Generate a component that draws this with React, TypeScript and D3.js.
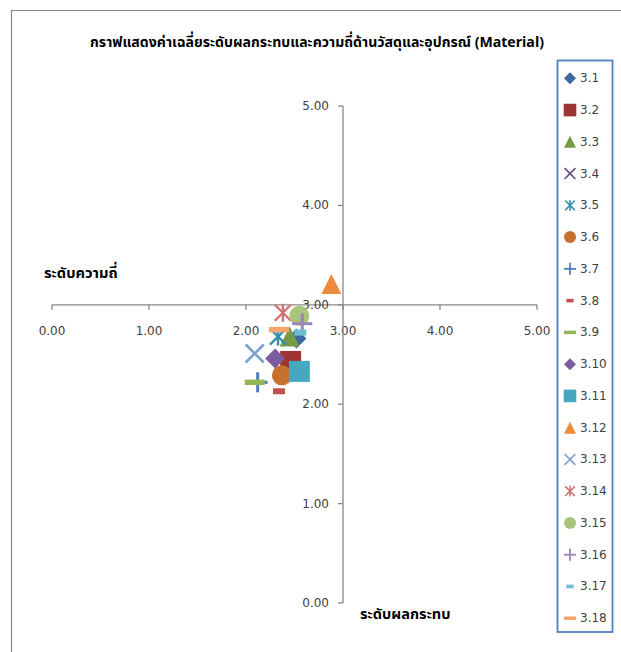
import React from 'react';
import * as d3 from 'd3';

// Items 3.1 – 3.18: mean impact level (x) and mean frequency level (y)
const categories = ['3.1', '3.2', '3.3', '3.4', '3.5', '3.6', '3.7', '3.8', '3.9', '3.10', '3.11', '3.12', '3.13', '3.14', '3.15', '3.16', '3.17', '3.18'];
const impact = [2.52, 2.46, 2.45, 2.55, 2.33, 2.37, 2.12, 2.34, 2.09, 2.30, 2.55, 2.88, 2.09, 2.38, 2.55, 2.58, 2.56, 2.34];
const frequency = [2.66, 2.43, 2.68, 2.34, 2.68, 2.29, 2.22, 2.13, 2.22, 2.46, 2.33, 3.21, 2.51, 2.92, 2.89, 2.81, 2.72, 2.75];
const markerTypes = ['diamond', 'square', 'triangle', 'x', 'star', 'circle', 'plus', 'dash', 'longdash',
  'diamond', 'square', 'triangle', 'x', 'star', 'circle', 'plus', 'dash', 'longdash'];
const colors = ['#3D68A0', '#9E3431', '#779A45', '#5F4A80', '#3590A8', '#C8702E', '#4A7EC0', '#C0504D', '#96B656',
  '#7B5C9E', '#47A6C0', '#EE8A3C', '#7B9FD0', '#D07370', '#A9C47C', '#9A85B8', '#6FBDD1', '#F7A66B'];
const axisTicks = [0, 1, 2, 3, 4, 5];

const title = 'กราฟแสดงค่าเฉลี่ยระดับผลกระทบและความถี่ด้านวัสดุและอุปกรณ์ (Material)';
const yTitle = 'ระดับความถี่';
const xTitle = 'ระดับผลกระทบ';

const W = 621;
const H = 652;
const FONT = "Tahoma, 'Noto Sans Thai', 'Noto Sans', 'DejaVu Sans', sans-serif";
const NUMFONT = "'DejaVu Sans', sans-serif";

const x = d3.scaleLinear().domain([0, 5]).range([52, 537]);
const y = d3.scaleLinear().domain([0, 5]).range([603, 106]);

function Marker({ type, color, s }: { type: string; color: string; s: number }) {
  switch (type) {
    case 'diamond': {
      const h = 10 * s;
      return <path d={`M0,${-h}L${h},0L0,${h}L${-h},0Z`} fill={color} />;
    }
    case 'square': {
      const h = 10.5 * s;
      return <rect x={-h} y={-h} width={2 * h} height={2 * h} fill={color} />;
    }
    case 'triangle': {
      const h = 10 * s;
      return <path d={`M0,${-h}L${h},${h}L${-h},${h}Z`} fill={color} />;
    }
    case 'x': {
      const h = 9 * s;
      return (
        <g stroke={color} strokeWidth={Math.max(1.6, 2.6 * s)}>
          <line x1={-h} y1={-h} x2={h} y2={h} />
          <line x1={-h} y1={h} x2={h} y2={-h} />
        </g>
      );
    }
    case 'star': {
      const h = 8 * s;
      return (
        <g stroke={color} strokeWidth={Math.max(1.6, 2.4 * s)}>
          <line x1={-h} y1={-h} x2={h} y2={h} />
          <line x1={-h} y1={h} x2={h} y2={-h} />
          <line x1={0} y1={-h - 1 * s} x2={0} y2={h + 1 * s} />
        </g>
      );
    }
    case 'circle':
      return <circle r={10 * s} fill={color} />;
    case 'plus': {
      const h = 10 * s;
      return (
        <g stroke={color} strokeWidth={Math.max(1.8, 3 * s)}>
          <line x1={-h} y1={0} x2={h} y2={0} />
          <line x1={0} y1={-h} x2={0} y2={h} />
        </g>
      );
    }
    case 'dash': {
      const w = 12 * s;
      const hh = 6 * s;
      return <rect x={-w / 2} y={-hh / 2} width={w} height={hh} fill={color} />;
    }
    case 'longdash': {
      const w = 20 * s;
      const hh = Math.max(3.5, 5.5 * s);
      return <rect x={-w / 2} y={-hh / 2} width={w} height={hh} fill={color} />;
    }
    default:
      return null;
  }
}

export default function App() {
  const x0 = x(3);
  const y0 = y(3);
  const axisColor = '#888888';
  const textColor = '#404040';
  const legendTop = 78.3;
  const legendStep = 31.76;

  return (
    <svg width={W} height={H} style={{ position: 'fixed', left: 0, top: 0, background: '#fff' }}>
      {/* chart frame */}
      <path d={`M11.5,${H}V10.5H${W}`} fill="none" stroke="#878787" strokeWidth={1.2} />

      <text x={317} y={42} textAnchor="middle" dominantBaseline="central" fontFamily={FONT}
        fontWeight="bold" fontSize={14.1} fill="#000">{title}</text>

      {/* horizontal axis through frequency = 3 */}
      <line x1={x(0)} x2={x(5)} y1={y0} y2={y0} stroke={axisColor} strokeWidth={1.3} />
      {axisTicks.map((t) => (
        <g key={'xt' + t}>
          <line x1={x(t)} x2={x(t)} y1={y0} y2={y0 + 5} stroke={axisColor} strokeWidth={1.3} />
          <text x={x(t)} y={y0 + 26} textAnchor="middle" dominantBaseline="central" fontFamily={NUMFONT}
            fontSize={12} fill={textColor}>{t.toFixed(2)}</text>
        </g>
      ))}

      {/* vertical axis through impact = 3 */}
      <line x1={x0} x2={x0} y1={y(0)} y2={y(5)} stroke={axisColor} strokeWidth={1.3} />
      {axisTicks.map((t) => (
        <g key={'yt' + t}>
          <line x1={x0 - 5} x2={x0} y1={y(t)} y2={y(t)} stroke={axisColor} strokeWidth={1.3} />
          <text x={x0 - 14} y={y(t)} textAnchor="end" dominantBaseline="central" fontFamily={NUMFONT}
            fontSize={12} fill={textColor}>{t.toFixed(2)}</text>
        </g>
      ))}

      <text x={44} y={273} dominantBaseline="central" fontFamily={FONT} fontWeight="bold" fontSize={14.7}
        fill="#000">{yTitle}</text>
      <text x={360} y={615} dominantBaseline="central" fontFamily={FONT} fontWeight="bold" fontSize={14.6}
        fill="#000">{xTitle}</text>

      {/* points, later items drawn over earlier ones */}
      {categories.map((c, i) => (
        <g key={'p' + c} transform={`translate(${x(impact[i])},${y(frequency[i])})`}>
          <Marker type={markerTypes[i]} color={colors[i]} s={1} />
        </g>
      ))}

      {/* legend */}
      <rect x={557.5} y={60.5} width={55} height={571.5} fill="#fff" stroke="#4F81BD" strokeWidth={1.8} />
      {categories.map((c, i) => {
        const ly = legendTop + i * legendStep;
        return (
          <g key={'l' + c}>
            <g transform={`translate(570,${ly})`}>
              <Marker type={markerTypes[i]} color={colors[i]} s={0.6} />
            </g>
            <text x={580} y={ly} dominantBaseline="central" fontFamily={NUMFONT} fontSize={12}
              fill={textColor}>{c}</text>
          </g>
        );
      })}
    </svg>
  );
}
